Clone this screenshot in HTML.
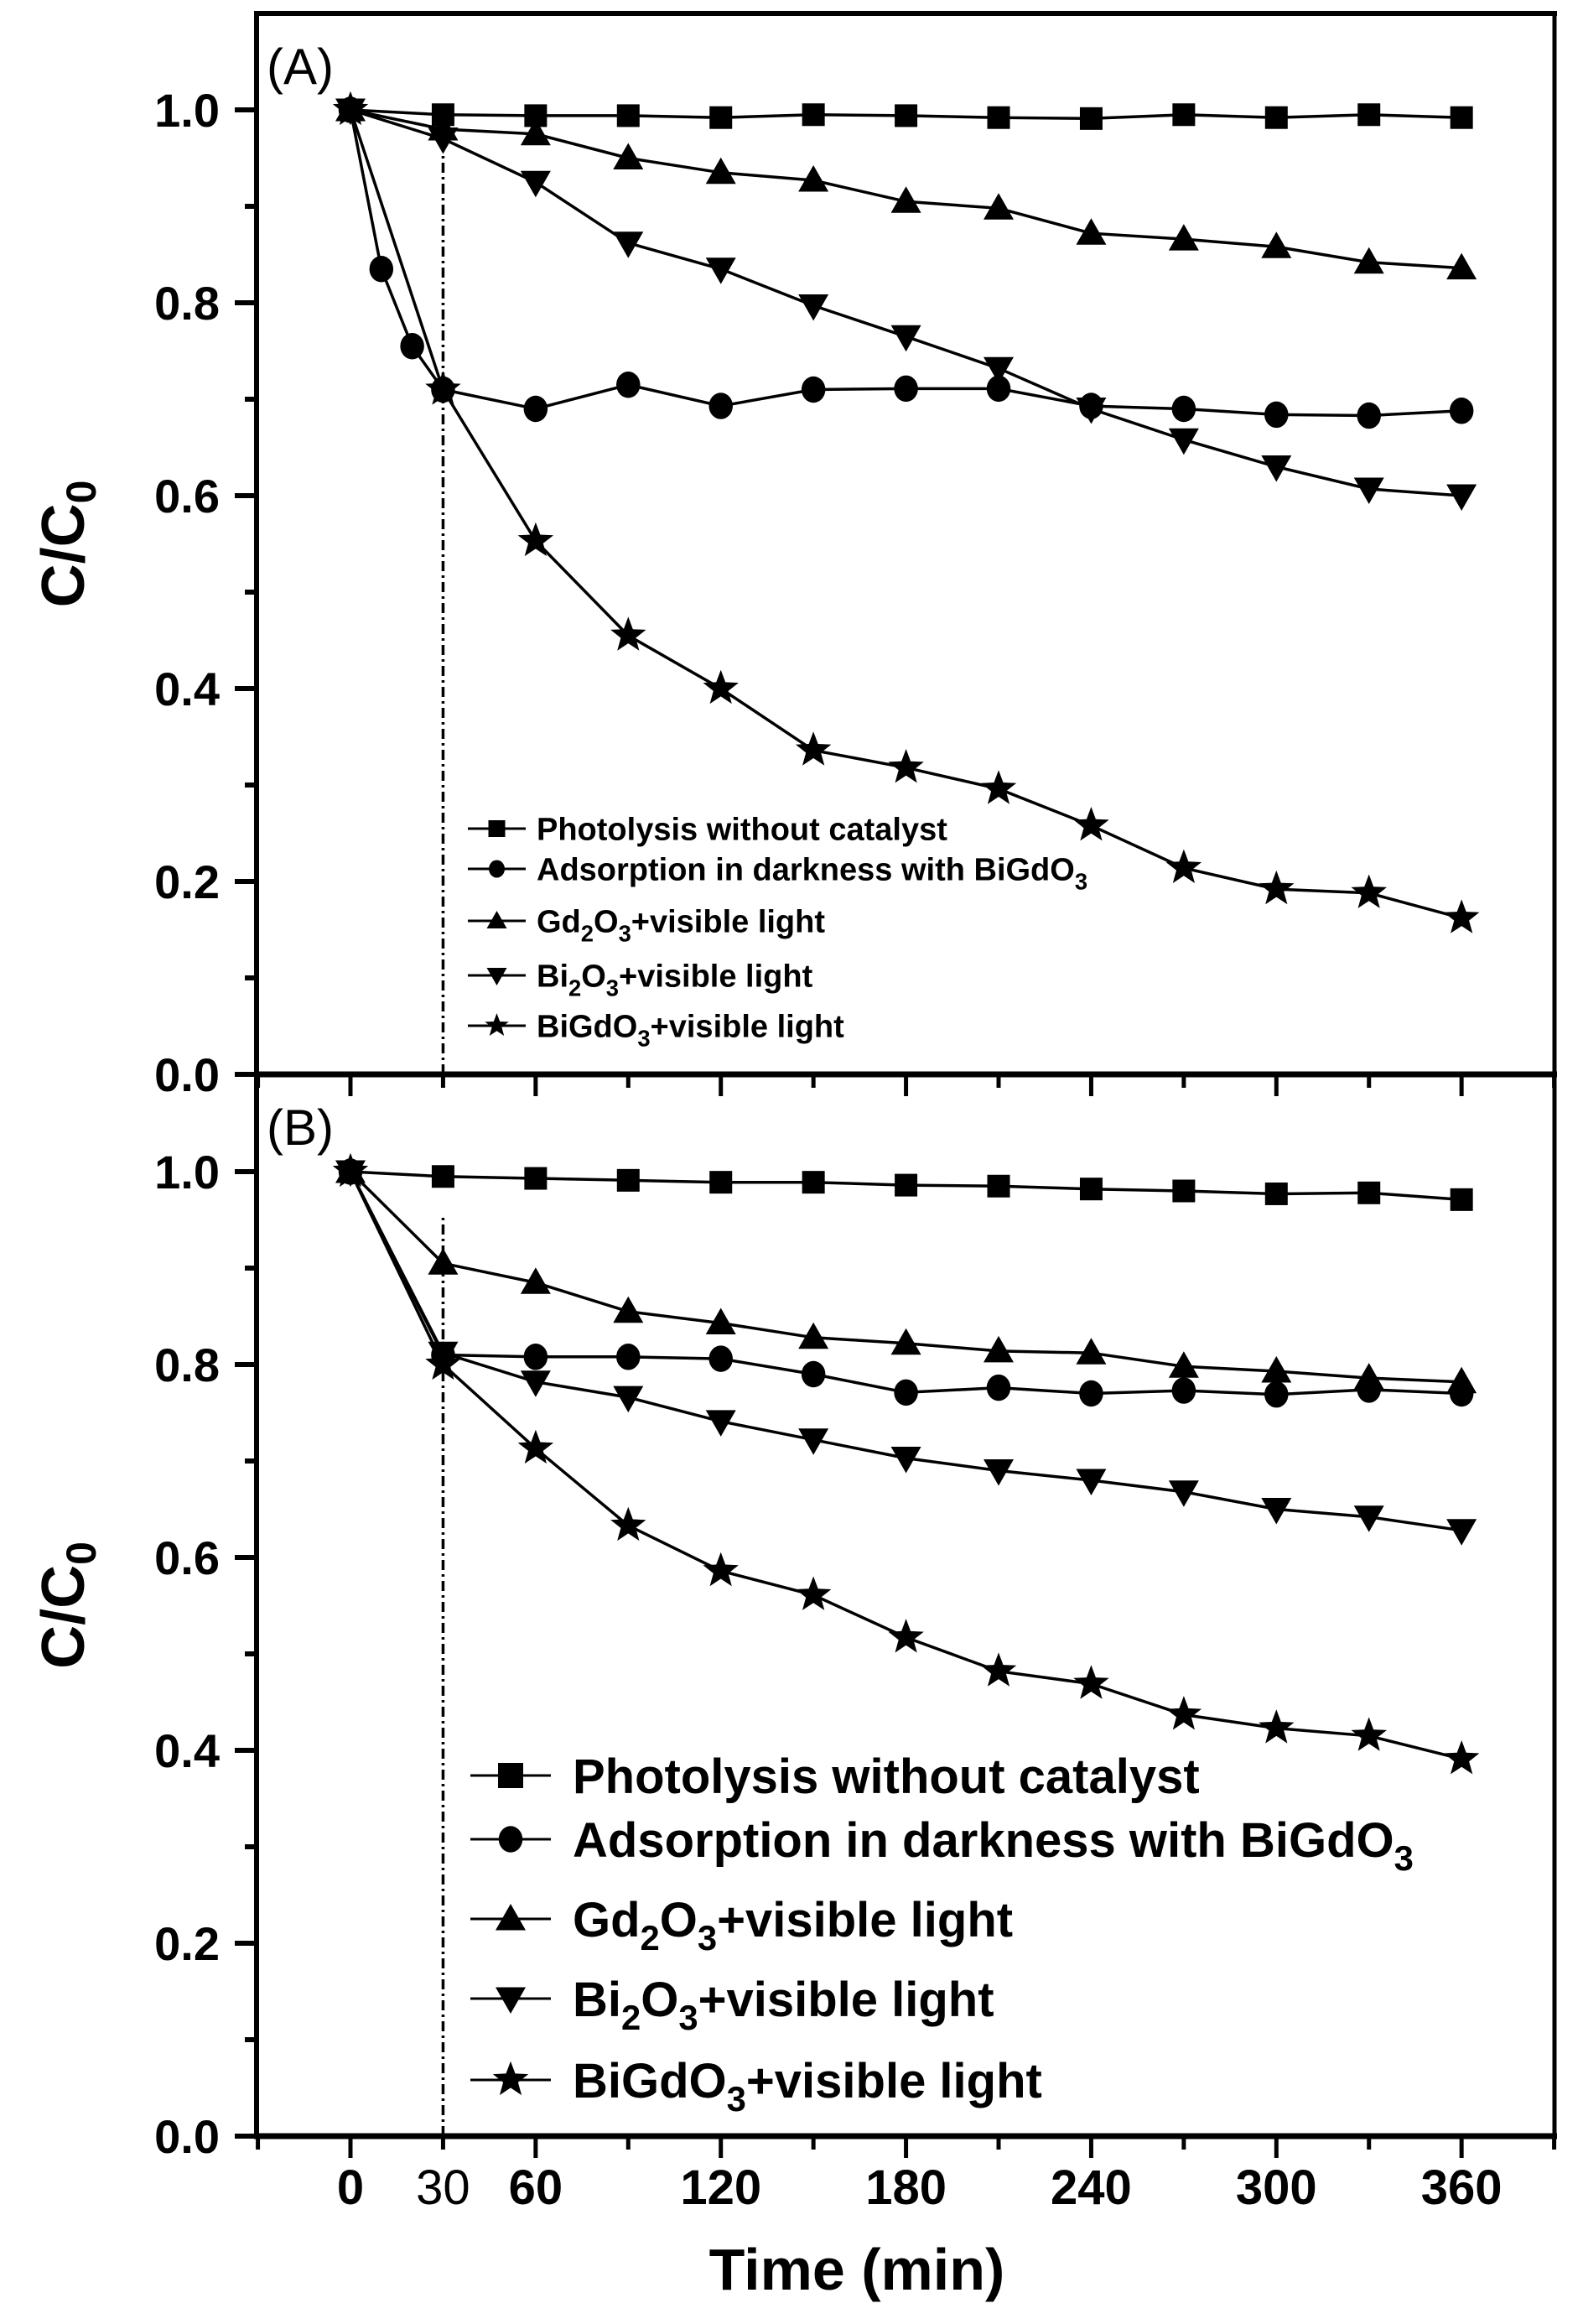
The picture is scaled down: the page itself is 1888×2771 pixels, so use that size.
<!DOCTYPE html>
<html><head><meta charset="utf-8"><style>html,body{margin:0;padding:0;background:#fff}svg{display:block}text{font-family:"Liberation Sans",Arial,sans-serif}</style></head>
<body>
<svg id="chart" width="1888" height="2771" viewBox="0 0 1888 2771" xmlns="http://www.w3.org/2000/svg">
<g id="root"></g>
</svg>
<script>
const timesFull=[0,30,60,90,120,150,180,210,240,270,300,330,360];
const timesAdsA=[0,10,20,30,60,90,120,150,180,210,240,270,300,330,360];
const photoA=[1,0.995,0.994,0.994,0.992,0.995,0.994,0.992,0.991,0.995,0.992,0.995,0.992];
const adsA=[1,0.835,0.755,0.71,0.69,0.715,0.693,0.71,0.711,0.711,0.693,0.69,0.684,0.683,0.688];
const gdA=[1,0.98,0.975,0.95,0.935,0.927,0.905,0.898,0.872,0.866,0.858,0.842,0.836];
const biA=[1,0.97,0.925,0.862,0.835,0.797,0.765,0.732,0.69,0.658,0.63,0.607,0.6];
const starA=[1,0.71,0.553,0.455,0.40,0.336,0.318,0.296,0.258,0.214,0.192,0.188,0.162];
const photoB=[1,0.995,0.993,0.991,0.989,0.989,0.986,0.985,0.982,0.98,0.977,0.978,0.971];
const adsB=[1,0.81,0.808,0.808,0.806,0.79,0.771,0.776,0.77,0.773,0.769,0.774,0.77];
const gdB=[1,0.905,0.885,0.855,0.843,0.828,0.822,0.814,0.812,0.798,0.793,0.786,0.782];
const biB=[1,0.812,0.782,0.766,0.741,0.722,0.703,0.69,0.68,0.668,0.65,0.642,0.628];
const starB=[1,0.8,0.713,0.633,0.586,0.561,0.517,0.482,0.469,0.437,0.423,0.415,0.391];
const xTickLabels=[0,30,60,120,180,240,300,360];
const yTickLabels=["0.0","0.2","0.4","0.6","0.8","1.0"];
// each part: [text, isSubscript]
const legendLabels=[
 [["Photolysis without catalyst",0]],
 [["Adsorption in darkness with BiGdO",0],["3",1]],
 [["Gd",0],["2",1],["O",0],["3",1],["+visible light",0]],
 [["Bi",0],["2",1],["O",0],["3",1],["+visible light",0]],
 [["BiGdO",0],["3",1],["+visible light",0]]];

const NS="http://www.w3.org/2000/svg";
const root=document.getElementById('root');
function el(tag,attrs,parent){const e=document.createElementNS(NS,tag);for(const k in attrs)e.setAttribute(k,attrs[k]);(parent||root).appendChild(e);return e;}
const X0=418,PX=3.681,L=306,R=1854;
function xs(t){return X0+t*PX;}
function ysA(v){return 1281-v*1150;}
function ysB(v){return 2547-v*1150;}

function marker(type,x,y,s,g){
  let m;
  if(type==='square'){m=el('rect',{x:x-s/2,y:y-s/2,width:s,height:s,fill:'#000'},g);}
  else if(type==='circle'){m=el('ellipse',{cx:x,cy:y,rx:s/2*0.95,ry:s/2*1.05,fill:'#000'},g);}
  else if(type==='up'){m=el('polygon',{points:`${x},${y-s*0.6} ${x-s*0.6},${y+s*0.45} ${x+s*0.6},${y+s*0.45}`,fill:'#000'},g);}
  else if(type==='down'){m=el('polygon',{points:`${x},${y+s*0.6} ${x-s*0.6},${y-s*0.45} ${x+s*0.6},${y-s*0.45}`,fill:'#000'},g);}
  else {let p=[];for(let i=0;i<10;i++){const r=i%2?s*0.26:s*0.62;const a=-Math.PI/2+i*Math.PI/5;p.push((x+r*Math.cos(a)).toFixed(1)+','+(y+r*Math.sin(a)).toFixed(1));}
    m=el('polygon',{points:p.join(' '),fill:'#000'},g);}
  return m;
}

function series(name,times,vals,ys,type,size){
  const g=el('g',{});
  
  
  const pts=times.map((t,i)=>xs(t).toFixed(1)+','+ys(vals[i]).toFixed(1)).join(' ');
  el('polyline',{points:pts,fill:'none',stroke:'#000','stroke-width':3.5},g);
  times.forEach((t,i)=>{const m=marker(type,xs(t),ys(vals[i]),size,g);
    
    });
}

function panel(key,ys,top,bottom,lbl,lblY,data,leg){
  const f=el('g',{});
  
  
  el('line',{x1:L,y1:top,x2:L,y2:bottom,stroke:'#000','stroke-width':6},f);
  el('line',{x1:R,y1:top,x2:R,y2:bottom,stroke:'#000','stroke-width':5},f);
  el('line',{x1:L-3,y1:top,x2:R+3,y2:top,stroke:'#000','stroke-width':6},f);
  el('line',{x1:L-3,y1:bottom,x2:R+3,y2:bottom,stroke:'#000','stroke-width':7},f);
  for(let k=0;k<=10;k++){const y=ys(k/10);const major=k%2===0;
    el('line',{x1:L-(major?26:14),y1:y,x2:L,y2:y,stroke:'#000','stroke-width':6},f);}
  yTickLabels.forEach((t,i)=>{const tx=el('text',{x:262,y:ys(i*0.2)+20,'text-anchor':'end','font-size':56,'font-weight':'bold'});tx.textContent=t;
    
    });
  for(let t=-30;t<=390;t+=30){const major=t>=0&&t%60===0;
    el('line',{x1:xs(t),y1:bottom,x2:xs(t),y2:bottom+(major?26:16),stroke:'#000','stroke-width':5},f);}
  el('line',{x1:xs(30),y1:bottom,x2:xs(30),y2:ys(data.dashTop),stroke:'#000','stroke-width':3.5,'stroke-dasharray':'12,5,3,5'},f);
  const pl=el('text',{x:318,y:lblY,'font-size':60});pl.textContent=lbl;
  
  
  const yl=el('text',{x:0,y:0,'font-size':72,'font-weight':'bold','text-anchor':'middle',transform:`translate(100,${(top+bottom)/2}) rotate(-90)`});
  yl.innerHTML='C/C<tspan font-size="50" dy="14">0</tspan>';
  
  
  data.s.forEach(s=>series(s[0]+'-'+key,s[1],s[2],ys,s[3],s[4]));
  const types=['square','circle','up','down','star'];
  const lg=el('g',{});
  
  
  legendLabels.forEach((parts,i)=>{const y=leg.rows[i];
    const e=el('g',{},lg);
    
    
    el('line',{x1:leg.x1,y1:y,x2:leg.x2,y2:y,stroke:'#000','stroke-width':3},e);
    marker(types[i],(leg.x1+leg.x2)/2,y,leg.ms*(types[i]==='star'?1.2:1),e);
    const tx=el('text',{x:leg.tx,y:y+leg.fs*0.36,'font-size':leg.fs,'font-weight':'bold'},e);
    const sh=leg.fs*0.28;let cur=0;let html='';
    parts.forEach(p=>{const target=p[1]?sh:0;const dy=target-cur;cur=target;
      html+=`<tspan dy="${dy}"${p[1]?` font-size="${leg.fs*0.72}"`:''}>${p[0]}</tspan>`;});
    tx.innerHTML=html;
  });
}

panel('a',ysA,16,1281,'(A)',100,{dashTop:0.97,s:[
 ['photolysis',timesFull,photoA,'square',27],
 ['adsorption',timesAdsA,adsA,'circle',30],
 ['gd2o3',timesFull,gdA,'up',30],
 ['bi2o3',timesFull,biA,'down',30],
 ['bigdo3',timesFull,starA,'star',36]]},
 {x1:558,x2:627,tx:640,fs:38,ms:20,rows:[988,1036,1098,1163,1223]});
panel('b',ysB,1281,2547,'(B)',1365,{dashTop:0.955,s:[
 ['photolysis',timesFull,photoB,'square',27],
 ['adsorption',timesFull,adsB,'circle',30],
 ['gd2o3',timesFull,gdB,'up',30],
 ['bi2o3',timesFull,biB,'down',30],
 ['bigdo3',timesFull,starB,'star',36]]},
 {x1:561,x2:657,tx:683,fs:58,ms:30,rows:[2117,2193,2288,2383,2480]});

xTickLabels.forEach(t=>{const tx=el('text',{x:xs(t),y:2628,'text-anchor':'middle','font-size':58,'font-weight':t===30?'normal':'bold'});tx.textContent=t;
  
  });
const xt=el('text',{x:1022,y:2730,'text-anchor':'middle','font-size':70,'font-weight':'bold'});xt.textContent='Time (min)';


</script>
</body></html>
